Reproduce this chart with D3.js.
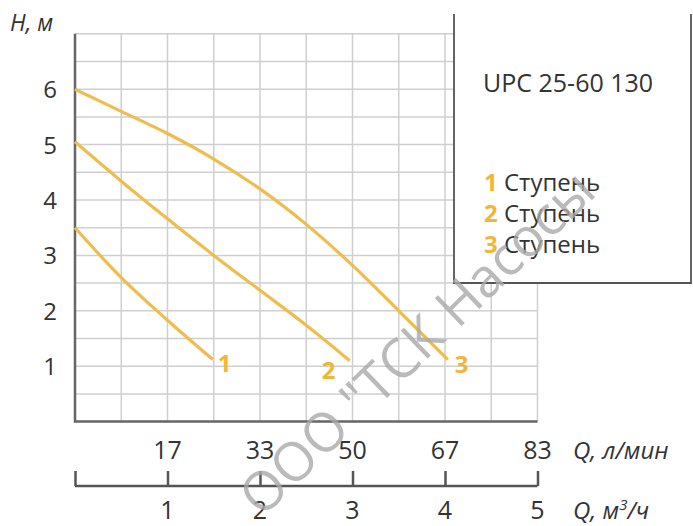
<!DOCTYPE html>
<html>
<head>
<meta charset="utf-8">
<script src="https://cdn.jsdelivr.net/npm/d3@7"></script>
<style>
  body { margin: 0; background: #fff; }
  text { font-family: "Open Sans", "Noto Sans", sans-serif; }
</style>
</head>
<body>
<div id="chart"></div>
<script>
// Q in m3/h, H in m
var curve1 = [ [0, 3.5], [0.5, 2.6], [1.0, 1.83], [1.49, 1.12] ];
var curve2 = [ [0, 5.05], [0.5, 4.34], [1.0, 3.66], [1.5, 3.0], [2.0, 2.37], [2.5, 1.74], [2.97, 1.1] ];
var curve3 = [ [0, 6.0], [0.5, 5.6], [1.0, 5.2], [1.5, 4.74], [2.0, 4.2], [2.5, 3.56], [3.0, 2.82], [3.5, 2.0], [4.03, 1.12] ];
var curveNames = [ '1', '2', '3' ];

var hTicks      = [ 1, 2, 3, 4, 5, 6 ];
var m3hTicks    = [ 1, 2, 3, 4, 5 ];
var lpmLabels   = [ '17', '33', '50', '67', '83' ];
var legendTitle = 'UPC 25-60 130';
var legendItems = [ '1', '2', '3' ];

var chart_width  = 693;
var chart_height = 526;
var orange       = '#efbd4e';
var labelOrange  = '#f0b636';
var dark         = '#333';

var svg = d3.select( '#chart' )
    .append( 'svg' )
    .attr( 'width', chart_width )
    .attr( 'height', chart_height );

var x = d3.scaleLinear().domain( [0, 5] ).range( [75, 537.5] );
var y = d3.scaleLinear().domain( [0, 7] ).range( [421.6, 33.8] );

// grid
var grid = svg.append( 'g' ).attr( 'stroke', '#cfcfcf' ).attr( 'stroke-width', 1.5 );
grid.selectAll( 'line.v' )
    .data( d3.range( 0.5, 5.01, 0.5 ) )
    .enter()
    .append( 'line' )
    .attr( 'class', 'v' )
    .attr( 'x1', function( d ){ return x( d ); } )
    .attr( 'x2', function( d ){ return x( d ); } )
    .attr( 'y1', y( 7 ) )
    .attr( 'y2', y( 0 ) );
grid.selectAll( 'line.h' )
    .data( d3.range( 0.5, 7.01, 0.5 ) )
    .enter()
    .append( 'line' )
    .attr( 'class', 'h' )
    .attr( 'x1', x( 0 ) )
    .attr( 'x2', x( 5 ) )
    .attr( 'y1', function( d ){ return y( d ); } )
    .attr( 'y2', function( d ){ return y( d ); } );

// axes frame
svg.append( 'path' )
    .attr( 'd', 'M' + x( 0 ) + ',' + y( 7 ) + 'V' + y( 0 ) + 'H' + x( 5 ) )
    .attr( 'fill', 'none' )
    .attr( 'stroke', '#666' )
    .attr( 'stroke-width', 2.5 );

// y labels
svg.selectAll( 'text.ytick' )
    .data( hTicks )
    .enter()
    .append( 'text' )
    .attr( 'class', 'ytick' )
    .text( function( d ){ return d; } )
    .attr( 'x', 50 )
    .attr( 'y', function( d ){ return y( d ) + 9; } )
    .attr( 'text-anchor', 'middle' )
    .attr( 'font-size', 24 )
    .attr( 'fill', dark );

svg.append( 'text' )
    .text( 'H, м' )
    .attr( 'x', 10 )
    .attr( 'y', 31 )
    .attr( 'font-size', 23 )
    .attr( 'font-style', 'italic' )
    .attr( 'fill', dark );

// l/min labels
svg.selectAll( 'text.lpm' )
    .data( m3hTicks )
    .enter()
    .append( 'text' )
    .attr( 'class', 'lpm' )
    .text( function( d, i ){ return lpmLabels[i]; } )
    .attr( 'x', function( d ){ return x( d ); } )
    .attr( 'y', 459 )
    .attr( 'text-anchor', 'middle' )
    .attr( 'font-size', 25 )
    .attr( 'fill', dark );

svg.append( 'text' )
    .text( 'Q, л/мин' )
    .attr( 'x', 573 )
    .attr( 'y', 459 )
    .attr( 'font-size', 24 )
    .attr( 'font-style', 'italic' )
    .attr( 'fill', dark );

// m3/h axis
var bottomAxis = d3.axisTop( x ).tickValues( [0].concat( m3hTicks ) ).tickSize( 15 ).tickFormat( '' );
var ax = svg.append( 'g' )
    .attr( 'transform', 'translate(0,486)' )
    .call( bottomAxis );
ax.select( '.domain' ).attr( 'stroke', '#555' ).attr( 'stroke-width', 2.5 ).attr( 'd', 'M' + x( 0 ) + ',0H' + x( 5 ) );
ax.selectAll( '.tick line' ).attr( 'stroke', '#555' ).attr( 'stroke-width', 2.5 );

svg.selectAll( 'text.m3h' )
    .data( m3hTicks )
    .enter()
    .append( 'text' )
    .attr( 'class', 'm3h' )
    .text( function( d ){ return d; } )
    .attr( 'x', function( d ){ return x( d ); } )
    .attr( 'y', 519 )
    .attr( 'text-anchor', 'middle' )
    .attr( 'font-size', 25 )
    .attr( 'fill', dark );

var qm = svg.append( 'text' )
    .attr( 'x', 573 )
    .attr( 'y', 519 )
    .attr( 'font-size', 24 )
    .attr( 'font-style', 'italic' )
    .attr( 'fill', dark );
qm.append( 'tspan' ).text( 'Q, м' );
qm.append( 'tspan' ).text( '3' ).attr( 'dy', -9 ).attr( 'font-size', 15 );
qm.append( 'tspan' ).text( '/ч' ).attr( 'dy', 9 );

// curves
var line = d3.line()
    .x( function( d ){ return x( d[0] ); } )
    .y( function( d ){ return y( d[1] ); } )
    .curve( d3.curveCatmullRom );

var curves = [ curve1, curve2, curve3 ];
svg.selectAll( 'path.curve' )
    .data( curves )
    .enter()
    .append( 'path' )
    .attr( 'class', 'curve' )
    .attr( 'd', line )
    .attr( 'fill', 'none' )
    .attr( 'stroke', orange )
    .attr( 'stroke-width', 3.2 );

// curve end labels
var labelOffsets = [ [5, 12], [-28, 18], [7, 13] ];
svg.selectAll( 'text.cname' )
    .data( curves )
    .enter()
    .append( 'text' )
    .attr( 'class', 'cname' )
    .text( function( d, i ){ return curveNames[i]; } )
    .attr( 'x', function( d, i ){ return x( d[d.length - 1][0] ) + labelOffsets[i][0]; } )
    .attr( 'y', function( d, i ){ return y( d[d.length - 1][1] ) + labelOffsets[i][1]; } )
    .attr( 'font-size', 24 )
    .attr( 'font-weight', 'bold' )
    .attr( 'fill', labelOrange );

// legend box
svg.append( 'rect' )
    .attr( 'x', 454 )
    .attr( 'y', 14 )
    .attr( 'width', 238 )
    .attr( 'height', 269 )
    .attr( 'fill', '#fff' );
svg.append( 'path' )
    .attr( 'd', 'M454,14V283H691V14' )
    .attr( 'fill', 'none' )
    .attr( 'stroke', '#555' )
    .attr( 'stroke-width', 1.8 );

svg.append( 'text' )
    .text( legendTitle )
    .attr( 'x', 483 )
    .attr( 'y', 92 )
    .attr( 'font-size', 25 )
    .attr( 'fill', dark );

var items = svg.selectAll( 'text.leg' )
    .data( legendItems )
    .enter()
    .append( 'text' )
    .attr( 'class', 'leg' )
    .attr( 'x', 484 )
    .attr( 'y', function( d, i ){ return 191 + i * 31; } )
    .attr( 'font-size', 24 );
items.append( 'tspan' ).text( function( d ){ return d; } ).attr( 'fill', labelOrange ).attr( 'font-weight', 'bold' );
items.append( 'tspan' ).text( ' Ступень' ).attr( 'fill', dark );

// watermark
svg.append( 'text' )
    .text( 'ООО "ТСК Насосы' )
    .attr( 'transform', 'translate(420,346) rotate(-44)' )
    .attr( 'text-anchor', 'middle' )
    .attr( 'dominant-baseline', 'middle' )
    .attr( 'font-size', 54 )
    .attr( 'fill', '#a9a9a9' )
    .attr( 'fill-opacity', 0.8 );
</script>
</body>
</html>
